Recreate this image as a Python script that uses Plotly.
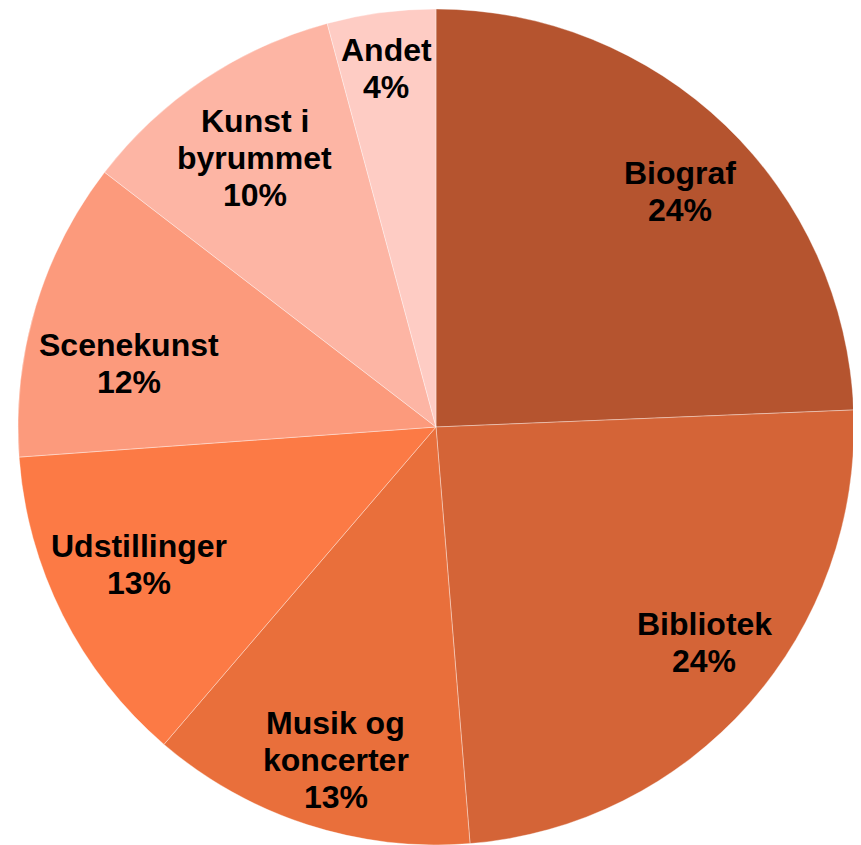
import math
import plotly.graph_objects as go

labels = ["Biograf", "Bibliotek", "Musik og<br>koncerter", "Udstillinger",
          "Scenekunst", "Kunst i<br>byrummet", "Andet"]
values = [24.4, 24.4, 12.6, 12.6, 11.6, 10.4, 4.2]
colors = ["#B5542F", "#D46437", "#E96F3B", "#FC7A45", "#FC9A7C", "#FDB5A4", "#FECCC4"]

# label layout (radius as fraction of pie radius, angular nudge in degrees)
label_r = [0.81, 0.823, 0.831, 0.782, 0.749, 0.775, 0.865]
label_shift = [2.2, -2.8, -1.2, 1.9, -5.0, -0.2, -0.4]
LINE_H = 37  # px between text lines

W, H = 853, 837
CX, CY, R = 428, 419, 418  # pie centre / radius in figure pixels

fig = go.Figure(go.Pie(
    labels=labels,
    values=values,
    sort=False,
    direction="clockwise",
    rotation=0,
    marker=dict(colors=colors, line=dict(color="rgba(255,255,255,0.6)", width=0.6)),
    textinfo="none",
    hoverinfo="label+percent",
    domain=dict(x=[(CX - R) / W, (CX + R) / W], y=[0, 1 - (CY - R) / H]),
))

total = sum(values)
cum = 0.0
annotations = []
for lab, v, rf, sh in zip(labels, values, label_r, label_shift):
    mid = (cum + v / 2) / total * 360 + sh
    cum += v
    th = math.radians(mid)
    px = CX + rf * R * math.sin(th)
    py = CY - rf * R * math.cos(th)
    pct = round(v / total * 100)
    lines = lab.split("<br>") + [f"{pct}%"]
    n = len(lines)
    for i, ln in enumerate(lines):
        ly = py + (i - (n - 1) / 2) * LINE_H
        annotations.append(dict(
            x=px / W, y=1 - ly / H, xref="paper", yref="paper",
            text=f"<b>{ln}</b>", showarrow=False,
            xanchor="center", yanchor="middle",
            font=dict(family="Liberation Sans, Arial, sans-serif", size=32, color="black"),
        ))

fig.update_layout(
    width=W, height=H,
    margin=dict(l=0, r=0, t=0, b=0),
    paper_bgcolor="white",
    showlegend=False,
    annotations=annotations,
)
fig.write_html("out.html")
